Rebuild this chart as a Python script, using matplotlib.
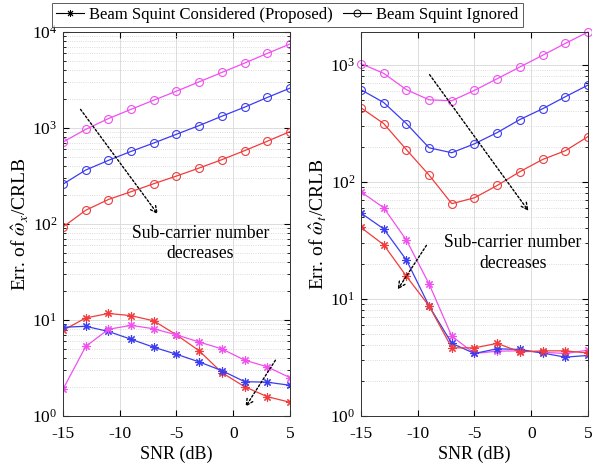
import matplotlib
matplotlib.use("Agg")
import matplotlib.pyplot as plt
from matplotlib.lines import Line2D
from matplotlib.ticker import LogLocator, NullFormatter

plt.rcParams['font.family'] = ['Liberation Serif', 'DejaVu Serif']
plt.rcParams['mathtext.fontset'] = 'stix'

snr = [-15, -13, -11, -9, -7, -5, -3, -1, 1, 3, 5]

# Left panel (omega_x)
x_ign_mag = [714, 968, 1253, 1567, 1950, 2420, 3027, 3793, 4743, 5984, 7500]
x_ign_blu = [260, 365, 460, 571, 698, 861, 1061, 1327, 1648, 2080, 2600]
x_ign_red = [93, 139, 180, 217, 263, 316, 383, 468, 581, 728, 918]
x_con_red = [7.8, 10.5, 11.7, 11.1, 9.8, 7.0, 4.78, 2.83, 2.02, 1.59, 1.39]
x_con_blu = [8.4, 8.6, 7.6, 6.3, 5.2, 4.4, 3.66, 2.97, 2.28, 2.25, 2.09]
x_con_mag = [1.9, 5.3, 8.0, 8.8, 8.1, 7.0, 5.9, 5.0, 3.82, 3.25, 2.51]

# Right panel (omega_t)
t_ign_mag = [1020, 843, 611, 501, 492, 603, 759, 955, 1202, 1517, 1900]
t_ign_blu = [611, 475, 314, 195, 177, 211, 263, 340, 420, 532, 669]
t_ign_red = [428, 314, 188, 114, 65, 73, 93, 122, 155, 184, 243]
t_con_mag = [82, 60, 31.8, 13.4, 4.8, 3.42, 3.58, 3.6, 3.5, 3.42, 3.65]
t_con_blu = [54, 39.6, 21.5, 8.7, 4.17, 3.42, 3.75, 3.7, 3.45, 3.18, 3.29]
t_con_red = [40.7, 29, 15.6, 8.7, 3.82, 3.82, 4.17, 3.53, 3.6, 3.6, 3.45]

legend_labels = ['Beam Squint Considered (Proposed)', 'Beam Squint Ignored']
xticks = [-15, -10, -5, 0, 5]
xticklabels = ['-15', '-10', '-5', '0', '5']

MAG = '#f050f0'
BLU = '#3c3cf0'
RED = '#f03c3c'
AST = (8, 2, 0)

fig = plt.figure(figsize=(5.92, 4.68), dpi=100)
axL = fig.add_axes([0.1064, 0.1111, 0.3834, 0.8205])
axR = fig.add_axes([0.6098, 0.1111, 0.3834, 0.8205])

def style(ax, ylim, ylabel):
    ax.set_yscale('log')
    ax.set_xlim(-15, 5)
    ax.set_ylim(*ylim)
    ax.set_xticks(xticks)
    ax.set_xticklabels(xticklabels)
    ax.yaxis.set_major_locator(LogLocator(base=10, numticks=10))
    ax.yaxis.set_minor_locator(LogLocator(base=10, subs=range(2, 10), numticks=10))
    ax.yaxis.set_minor_formatter(NullFormatter())
    ax.grid(True, which='major', color='#dcdcdc', linewidth=0.7, linestyle='-')
    ax.grid(True, which='minor', axis='y', color='#d0d0d0', linewidth=0.6, linestyle=':')
    ax.tick_params(which='both', direction='in', top=True, right=True, labelsize=12.5)
    ax.tick_params(which='major', length=4)
    ax.tick_params(which='minor', length=2)
    ax.tick_params(axis='x', pad=7)
    ax.tick_params(axis='y', pad=4)
    for s in ax.spines.values():
        s.set_color('#333333')
        s.set_linewidth(0.7)
    ax.set_xlabel('SNR (dB)', fontsize=13, labelpad=3)
    ax.set_ylabel(ylabel, fontsize=14, labelpad=1)

lw = 0.9
kw_o = dict(marker='o', markersize=5.7, markerfacecolor='none', markeredgewidth=0.8, linewidth=lw)
kw_s = dict(marker=AST, markersize=6, markeredgewidth=0.8, linewidth=lw)

axL.plot(snr, x_ign_mag, color=MAG, **kw_o)
axL.plot(snr, x_ign_blu, color=BLU, **kw_o)
axL.plot(snr, x_ign_red, color=RED, **kw_o)
axL.plot(snr, x_con_red, color=RED, **kw_s)
axL.plot(snr, x_con_blu, color=BLU, **kw_s)
axL.plot(snr, x_con_mag, color=MAG, **kw_s)

axR.plot(snr, t_ign_mag, color=MAG, clip_on=False, **kw_o)
axR.plot(snr, t_ign_blu, color=BLU, **kw_o)
axR.plot(snr, t_ign_red, color=RED, **kw_o)
axR.plot(snr, t_con_mag, color=MAG, **kw_s)
axR.plot(snr, t_con_blu, color=BLU, **kw_s)
axR.plot(snr, t_con_red, color=RED, **kw_s)

style(axL, (1, 1e4), r'Err. of $\hat{\omega}_x$/CRLB')
style(axR, (1, 1900), r'Err. of $\hat{\omega}_t$/CRLB')

arrow_kw = dict(arrowstyle='->', linestyle=(0, (1.5, 1.5)), color='black', lw=1.0, mutation_scale=12)
axL.annotate('', xy=(-6.5, 120), xytext=(-13.6, 1650), arrowprops=arrow_kw)
axL.annotate('', xy=(0.95, 1.18), xytext=(3.85, 4.03), arrowprops=arrow_kw)
axR.annotate('', xy=(-0.1, 54), xytext=(-9.1, 859), arrowprops=arrow_kw)
axR.annotate('', xy=(-11.9, 11.5), xytext=(-9.1, 30), arrowprops=arrow_kw)

axL.text(-2.9, 62.5, 'Sub-carrier number\ndecreases', ha='center', va='center', fontsize=12.7, linespacing=1.25)
axR.text(-1.6, 24.7, 'Sub-carrier number\ndecreases', ha='center', va='center', fontsize=12.7, linespacing=1.25)

handles = [Line2D([], [], color='black', marker=AST, markersize=5, linewidth=0.8, markeredgewidth=0.7),
           Line2D([], [], color='black', marker='o', markersize=5, markerfacecolor='none', linewidth=0.8, markeredgewidth=0.7)]
leg = fig.legend(handles, legend_labels, loc='center', bbox_to_anchor=(0.485, 0.968), ncol=2,
                 fontsize=12, frameon=True, fancybox=False, edgecolor='#333333', handlelength=1.7,
                 handletextpad=0.3, columnspacing=0.6, borderpad=0.25, borderaxespad=0)
leg.get_frame().set_linewidth(0.7)

fig.savefig('out.png', dpi=100)
